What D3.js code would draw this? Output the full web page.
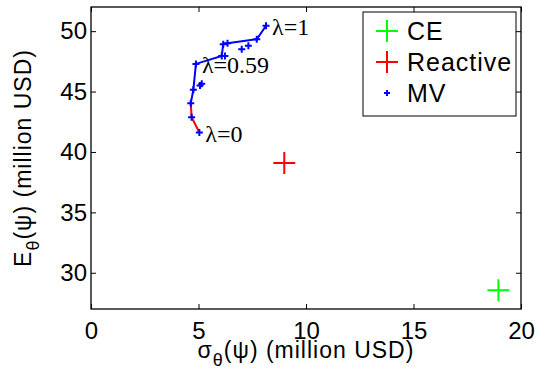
<!DOCTYPE html>
<html><head><meta charset="utf-8">
<script src="https://cdn.jsdelivr.net/npm/d3@7"></script>
<style>body{margin:0;background:#fff}</style>
</head><body>
<svg id="c" width="555" height="380"></svg>
<script>
// ---- data ----
const xTicks = [0, 5, 10, 15, 20];
const yTicks = [30, 35, 40, 45, 50];
// blue efficient-frontier line (from lambda=1 downwards)
const blueSigma = [8.14, 7.71, 6.35, 6.15, 6.08, 4.88, 4.76, 4.64];
const blueMean  = [50.45, 49.33, 49.0, 48.92, 47.95, 47.29, 45.14, 44.04];
// red segment down to lambda=0
const redSigma = [4.64, 4.68, 5.04];
const redMean  = [44.04, 42.88, 41.61];
// MV points
const mvSigma = [8.14, 7.71, 6.35, 6.15, 6.08, 6.23, 4.88, 4.76, 4.64, 4.68, 5.04, 7.01, 7.32, 5.15, 5.07];
const mvMean  = [50.45, 49.33, 49.0, 48.92, 47.95, 47.95, 47.29, 45.14, 44.04, 42.88, 41.61, 48.5, 48.8, 45.64, 45.5];
const ceSigma = [18.95], ceMean = [28.55];
const reSigma = [8.99], reMean = [39.08];
const lambdaLabels = ["λ=1", "λ=0.59", "λ=0"];
const lambdaSigma = [8.14, 4.88, 5.04];
const lambdaMean  = [50.45, 47.29, 41.61];
const legendNames = ["CE", "Reactive", "MV"];
const legendColors = ["#00ff00", "#ff0000", "#0000ff"];

const svg = d3.select("#c");
const L = 91, R = 521, T = 7, B = 309;
const x = d3.scaleLinear([0, 20], [L, R]);
const y = d3.scaleLinear([27, 52], [B, T]);
const FONT = "Liberation Sans, Arial, Helvetica, sans-serif";

function styleAxis(g, labels) {
  g.select(".domain").remove();
  g.selectAll(".tick line").attr("stroke", "#000").attr("stroke-width", 1);
  g.selectAll(".tick text").attr("font-family", FONT).attr("font-size", 24).attr("fill", "#000");
  if (!labels) g.selectAll(".tick text").remove();
}
svg.append("g").attr("transform", `translate(0,${B})`)
  .call(d3.axisBottom(x).tickValues(xTicks).tickSizeInner(-5).tickSizeOuter(0).tickPadding(13))
  .call(g => styleAxis(g, true));
svg.append("g").attr("transform", `translate(0,${T})`)
  .call(d3.axisTop(x).tickValues(xTicks).tickSizeInner(-5).tickSizeOuter(0))
  .call(g => styleAxis(g, false));
svg.append("g").attr("transform", `translate(${L},0)`)
  .call(d3.axisLeft(y).tickValues(yTicks).tickSizeInner(-5).tickSizeOuter(0).tickPadding(4))
  .call(g => styleAxis(g, true));
svg.append("g").attr("transform", `translate(${R},0)`)
  .call(d3.axisRight(y).tickValues(yTicks).tickSizeInner(-5).tickSizeOuter(0))
  .call(g => styleAxis(g, false));
svg.append("rect").attr("x", L).attr("y", T).attr("width", R - L).attr("height", B - T)
  .attr("fill", "none").attr("stroke", "#000").attr("stroke-width", 1.3);

// lines
const line = d3.line().x(d => x(d[0])).y(d => y(d[1]));
svg.append("path").datum(d3.zip(redSigma, redMean)).attr("d", line)
  .attr("fill", "none").attr("stroke", "#ff0000").attr("stroke-width", 2);
svg.append("path").datum(d3.zip(blueSigma, blueMean)).attr("d", line)
  .attr("fill", "none").attr("stroke", "#0000ff").attr("stroke-width", 2);

function cross(g, cx, cy, half, color, sw) {
  g.append("path").attr("d", `M${cx - half},${cy}H${cx + half}M${cx},${cy - half}V${cy + half}`)
    .attr("stroke", color).attr("stroke-width", sw).attr("fill", "none");
}
d3.zip(mvSigma, mvMean).forEach(d => cross(svg, x(d[0]), y(d[1]), 3.5, "#0000ff", 2));
d3.zip(reSigma, reMean).forEach(d => cross(svg, x(d[0]), y(d[1]), 11, "#ff0000", 2));
d3.zip(ceSigma, ceMean).forEach(d => cross(svg, x(d[0]), y(d[1]), 11, "#00ff00", 2));

// lambda labels
lambdaLabels.forEach((t, i) => {
  svg.append("text").attr("x", x(lambdaSigma[i]) + 6).attr("y", y(lambdaMean[i]) + 9)
    .attr("font-family", "Liberation Serif, Times New Roman, serif").attr("font-size", 24)
    .text(t);
});

// legend
const lg = svg.append("g");
lg.append("rect").attr("x", 363).attr("y", 12).attr("width", 153).attr("height", 104)
  .attr("fill", "#fff").attr("stroke", "#000").attr("stroke-width", 1);
legendNames.forEach((n, i) => {
  const cy = 31 + i * 31;
  cross(lg, 387, cy, i < 2 ? 11 : 3, legendColors[i], 2);
  lg.append("text").attr("x", 407).attr("y", cy + 9).attr("font-family", FONT)
    .attr("font-size", 25).attr("letter-spacing", 1).text(n);
});

// axis labels
const xl = svg.append("text").attr("x", (L + R) / 2).attr("y", 358).attr("text-anchor", "middle")
  .attr("font-family", FONT).attr("font-size", 23).attr("letter-spacing", 1);
xl.append("tspan").text("σ");
xl.append("tspan").attr("font-size", 18).attr("dy", 8).text("θ");
xl.append("tspan").attr("dy", -8).text("(ψ) (million USD)");

const yl = svg.append("text").attr("transform", `translate(31,${(T + B) / 2}) rotate(-90)`)
  .attr("text-anchor", "middle").attr("font-family", FONT).attr("font-size", 23).attr("letter-spacing", 1);
yl.append("tspan").text("E");
yl.append("tspan").attr("font-size", 18).attr("dy", 8).text("θ");
yl.append("tspan").attr("dy", -8).text("(ψ) (million USD)");
</script>
</body></html>
